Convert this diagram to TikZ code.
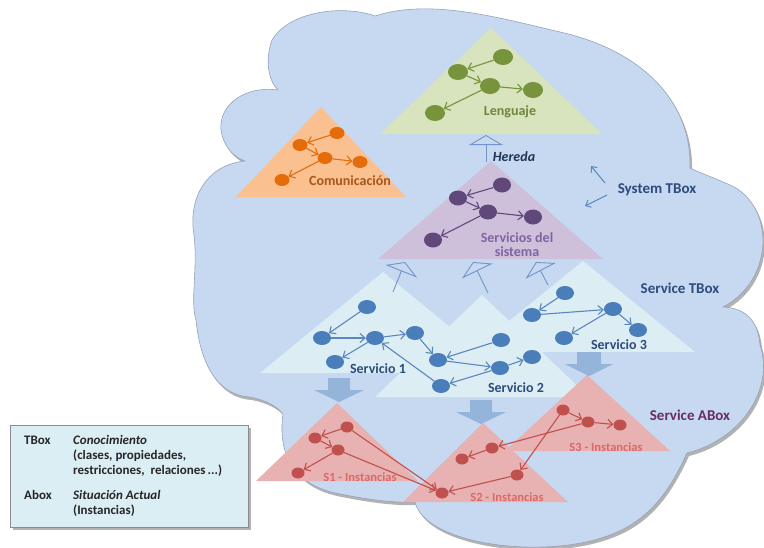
\documentclass[tikz,border=0pt]{standalone}
\usepackage{fontspec}
\setmainfont{Carlito}
\usetikzlibrary{arrows.meta,shapes.geometric}
\definecolor{cloudfill}{RGB}{198,217,240}
\definecolor{cloudedge}{RGB}{150,162,185}
\definecolor{lgreen}{RGB}{215,228,189}
\definecolor{dgreen}{RGB}{119,147,60}
\definecolor{tgreen}{RGB}{110,135,60}
\definecolor{lorange}{RGB}{250,192,144}
\definecolor{dorange}{RGB}{228,108,10}
\definecolor{torange}{RGB}{170,85,25}
\definecolor{lpurple}{RGB}{206,192,218}
\definecolor{dpurple}{RGB}{96,73,122}
\definecolor{tpurple}{RGB}{128,100,162}
\definecolor{lcyan}{RGB}{220,238,244}
\definecolor{dblue}{RGB}{74,126,187}
\definecolor{ablue}{RGB}{90,135,190}
\definecolor{barrow}{RGB}{143,176,216}
\definecolor{lpink}{RGB}{232,178,178}
\definecolor{dred}{RGB}{192,80,77}
\definecolor{tred}{RGB}{218,105,105}
\definecolor{tblue}{RGB}{45,75,125}
\definecolor{inhc}{RGB}{115,148,200}
\definecolor{legfill}{RGB}{219,238,244}
\definecolor{legdraw}{RGB}{140,140,140}
\definecolor{legtext}{RGB}{38,38,38}
\tikzset{
  dotg/.style={ellipse, fill=dgreen, minimum width=20pt, minimum height=16pt, inner sep=0pt},
  doto/.style={ellipse, fill=dorange, minimum width=15pt, minimum height=12pt, inner sep=0pt},
  dotp/.style={ellipse, fill=dpurple, minimum width=18pt, minimum height=15pt, inner sep=0pt},
  dotb/.style={ellipse, fill=dblue, minimum width=18pt, minimum height=14pt, inner sep=0pt},
  dotr/.style={ellipse, fill=dred, minimum width=13pt, minimum height=11pt, inner sep=0pt},
  lnk/.style={line width=1.1pt, -{Straight Barb[length=5pt,width=9pt]}},
  lnkg/.style={lnk, draw=dgreen},
  lnko/.style={lnk, draw=dorange},
  lnkp/.style={lnk, draw=dpurple},
  lnkb/.style={lnk, draw=ablue},
  lnkr/.style={lnk, draw=dred},
  inh/.style={line width=0.9pt, draw=inhc, -{Triangle[open,length=10pt,width=34pt]}},
  lbl/.style={font=\fontsize{15}{17}\selectfont\bfseries, inner sep=0pt, text=tblue},
  tlbl/.style={font=\fontsize{14}{14}\selectfont\bfseries, inner sep=0pt},
  slbl/.style={font=\fontsize{12.5}{14}\selectfont\bfseries, inner sep=0pt, text=tred},
  legtxt/.style={font=\fontsize{13}{14}\selectfont\bfseries, inner sep=0pt, text=legtext, anchor=base west},
  blockarr/.style={fill=barrow, opacity=0.9},
}
\newcommand\cloudshape{(375,16)
  .. controls (345,5) and (290,10) .. (272,40)
  .. controls (265,60) and (268,80) .. (278,90)
  .. controls (240,85) and (215,110) .. (222,135)
  .. controls (226,150) and (236,158) .. (245,161)
  .. controls (205,165) and (188,200) .. (194,235)
  .. controls (198,270) and (190,300) .. (196,320)
  .. controls (200,360) and (215,395) .. (250,397)
  .. controls (265,400) and (277,406) .. (283,414)
  .. controls (278,450) and (290,485) .. (340,494)
  .. controls (370,500) and (395,503) .. (415,502)
  .. controls (425,545) and (545,560) .. (610,535)
  .. controls (650,520) and (670,490) .. (687,453)
  .. controls (740,440) and (775,390) .. (760,345)
  .. controls (758,320) and (745,308) .. (723,307)
  .. controls (775,280) and (775,205) .. (730,185)
  .. controls (712,177) and (698,172) .. (690,168)
  .. controls (692,100) and (640,50) .. (560,32)
  .. controls (500,18) and (430,-2) .. (375,16) -- cycle}
\begin{document}
\begin{tikzpicture}[x=1pt,y=-1pt]
\useasboundingbox (0,0) rectangle (764,547);
\fill[white] (0,0) rectangle (764,547);
% cloud
\begin{scope}[shift={(2,3)}]
\fill[black!30] \cloudshape;
\end{scope}
\fill[cloudfill] \cloudshape;
\draw[cloudedge, line width=0.6pt] \cloudshape;

% top triangles
\fill[lgreen] (491,28) -- (602,134) -- (380,134) -- cycle;
\fill[lorange] (321,107) -- (406,197) -- (236,197) -- cycle;
\fill[lpurple] (491,161) -- (603,259) -- (378,259) -- cycle;

% service triangles
\fill[lcyan] (383,272) -- (506,373) -- (260,373) -- cycle;
\fill[lcyan] (482,295) -- (589,397) -- (375,397) -- cycle;
\fill[lcyan] (583,261) -- (695,352) -- (471,352) -- cycle;

% abox triangles
\fill[lpink] (337,403) -- (418,481) -- (256,481) -- cycle;
\fill[lpink] (587,375) -- (670,451) -- (505,451) -- cycle;
\fill[lpink] (483,423) -- (568,502) -- (403,502) -- cycle;

% block arrows
\fill[blockarr] (328,378) -- (350,378) -- (350,390) -- (364,390) -- (339,402) -- (314,390) -- (328,390) -- cycle;
\fill[blockarr] (470,400) -- (492,400) -- (492,412) -- (506,412) -- (481,424) -- (456,412) -- (470,412) -- cycle;
\fill[blockarr] (577,352) -- (601,352) -- (601,364) -- (613,364) -- (589,376) -- (565,364) -- (577,364) -- cycle;

% Lenguaje
\node[dotg] (g1) at (503,57) {};
\node[dotg] (g2) at (458,72) {};
\node[dotg] (g3) at (490,86) {};
\node[dotg] (g4) at (533,90) {};
\node[dotg] (g5) at (435,113) {};
\draw[lnkg] (g1) -- (g2);
\draw[lnkg] (g2) -- (g3);
\draw[lnkg] (g3) -- (g4);
\draw[lnkg] (g3) -- (g5);
\node[tlbl, text=tgreen] (tlen) at (510,112) {Lenguaje};

% Comunicacion
\node[doto] (o1) at (337,133) {};
\node[doto] (o2) at (300,145) {};
\node[doto] (o3) at (325,158) {};
\node[doto] (o4) at (360,162) {};
\node[doto] (o5) at (282,180) {};
\draw[lnko] (o1) -- (o2);
\draw[lnko] (o2) -- (o3);
\draw[lnko] (o3) -- (o4);
\draw[lnko] (o3) -- (o5);
\node[tlbl, text=torange] (tcom) at (350,181) {Comunicación};

% Servicios del sistema
\node[dotp] (p1) at (502,185) {};
\node[dotp] (p2) at (458,198) {};
\node[dotp] (p3) at (488,212) {};
\node[dotp] (p4) at (533,217) {};
\node[dotp] (p5) at (433,240) {};
\draw[lnkp] (p1) -- (p2);
\draw[lnkp] (p2) -- (p3);
\draw[lnkp] (p3) -- (p4);
\draw[lnkp] (p3) -- (p5);
\node[tlbl, text=tpurple, align=center] (tsis) at (517,245) {Servicios del\\sistema};

% Hereda
\coordinate (hfrom) at (486,162);
\coordinate (hto) at (486,135);
\draw[inh] (hfrom) -- (hto);
\node[font=\fontsize{14}{14}\selectfont\bfseries\itshape, text=tblue!70!black, inner sep=0pt] (hereda) at (514,157) {Hereda};

% inheritance from services
\coordinate (i1a) at (393,292); \coordinate (i1b) at (405,262);
\coordinate (i2a) at (488,293); \coordinate (i2b) at (473,262);
\coordinate (i3a) at (548,285); \coordinate (i3b) at (536,262);
\draw[inh] (i1a) -- (i1b);
\draw[inh] (i2a) -- (i2b);
\draw[inh] (i3a) -- (i3b);

% System TBox arrows
\node[lbl] (systb) at (657,190) {System TBox};
\coordinate (s1a) at (605,183); \coordinate (s1b) at (591,166);
\coordinate (s2a) at (607,195); \coordinate (s2b) at (585,206);
\draw[line width=1pt, draw=ablue, -{Straight Barb[length=4.5pt,width=8pt]}] (s1a) -- (s1b);
\draw[line width=1pt, draw=ablue, -{Straight Barb[length=4.5pt,width=8pt]}] (s2a) -- (s2b);
\node[lbl] (servtb) at (680,288) {Service TBox};
\node[lbl, text=tblue!60!purple] (servab) at (690,415) {Service ABox};

% Service nodes
\node[dotb] (a1) at (367,307) {};
\node[dotb] (a2) at (322,338) {};
\node[dotb] (a3) at (375,338) {};
\node[dotb] (a4) at (415,333) {};
\node[dotb] (a5) at (335,362) {};
\node[dotb] (b1) at (438,360) {};
\node[dotb] (b2) at (501,340) {};
\node[dotb] (b3) at (500,368) {};
\node[dotb] (b4) at (441,386) {};
\node[dotb] (b5) at (532,357) {};
\node[dotb] (c1) at (565,293) {};
\node[dotb] (c2) at (532,315) {};
\node[dotb] (c3) at (613,309) {};
\node[dotb] (c4) at (638,330) {};
\node[dotb] (c5) at (564,338) {};
\draw[lnkb] (a1) -- (a2);
\draw[lnkb] (a2) -- (a3);
\draw[lnkb] (a3) -- (a5);
\draw[lnkb] (a3) -- (a4);
\draw[lnkb] (a4) -- (b1);
\draw[lnkb] (b2) -- (b1);
\draw[lnkb] (b1) -- (b3);
\draw[lnkb] (b3) -- (b5);
\draw[lnkb] (b4) -- (a3);
\draw[lnkb] (b3) -- (b4);
\draw[lnkb] (c1) -- (c2);
\draw[lnkb] (c2) -- (c3);
\draw[lnkb] (c3) -- (c4);
\draw[lnkb] (c3) -- (c5);
\node[tlbl, text=tblue] (ts1) at (378,369) {Servicio 1};
\node[tlbl, text=tblue] (ts2) at (516,388) {Servicio 2};
\node[tlbl, text=tblue] (ts3) at (619,345) {Servicio 3};

% ABox nodes
\node[dotr] (d1) at (347,427) {};
\node[dotr] (d2) at (315,438) {};
\node[dotr] (d3) at (338,450) {};
\node[dotr] (d4) at (298,473) {};
\node[dotr] (e1) at (442,493) {};
\node[dotr] (e2) at (492,448) {};
\node[dotr] (e3) at (462,459) {};
\node[dotr] (e4) at (517,475) {};
\node[dotr] (f1) at (563,410) {};
\node[dotr] (f2) at (588,422) {};
\node[dotr] (f3) at (620,425) {};
\draw[lnkr] (d1) -- (d2);
\draw[lnkr] (d2) -- (d3);
\draw[lnkr] (d3) -- (d4);
\draw[lnkr] (d1) -- (e1);
\draw[lnkr] (d3) -- (e1);
\draw[lnkr] (e2) -- (e3);
\draw[lnkr] (e4) -- (e1);
\draw[lnkr] (f1) -- (f2);
\draw[lnkr] (f2) -- (f3);
\draw[lnkr] (f2) -- (e2);
\draw[lnkr] (f1) -- (e4);
\node[slbl] (ti1) at (360,477) {S1 - Instancias};
\node[slbl] (ti2) at (507,497) {S2 - Instancias};
\node[slbl] (ti3) at (606,447) {S3 - Instancias};

% legend
\fill[black!30] (13,428) rectangle (251,530);
\filldraw[fill=legfill, draw=legdraw, line width=0.8pt] (10,425) rectangle (248,527);
\node[legtxt] (l1) at (24,444) {TBox};
\node[legtxt] (l2) at (73,444) {\itshape Conocimiento};
\node[legtxt] (l3) at (73,459) {(clases, propiedades,};
\node[legtxt] (l4) at (73,474) {restricciones,\ \ relaciones\,...)};
\node[legtxt] (l5) at (24,499) {Abox};
\node[legtxt] (l6) at (73,499) {\itshape Situación Actual};
\node[legtxt] (l7) at (73,514) {(Instancias)};
\end{tikzpicture}
\end{document}
